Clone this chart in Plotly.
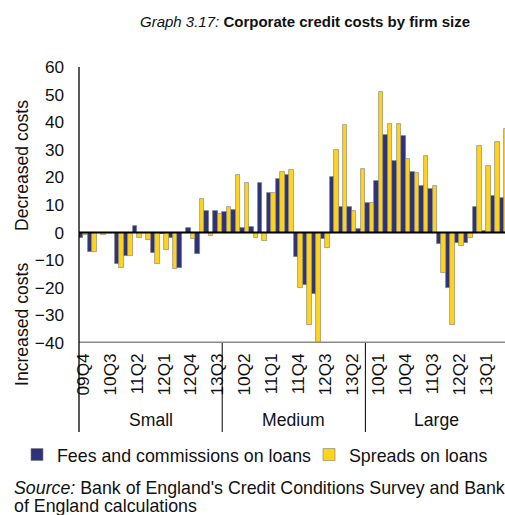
import plotly.graph_objects as go

# Quarters surveyed for each firm-size group (same 16 quarters per group)
quarters = ["09Q4", "10Q1", "10Q2", "10Q3", "10Q4", "11Q1", "11Q2", "11Q3",
            "11Q4", "12Q1", "12Q2", "12Q3", "12Q4", "13Q1", "13Q2", "13Q3"]
groups = ["Small", "Medium", "Large"]

# Net percentage balances (positive = decreased costs)
fees_small = [-1.8, -6.9, -0.3, -0.3, -11.5, -8.5, 2.4, -0.3,
              -7.3, -0.5, -1.8, -13.0, 1.5, -7.6, 8.0, 8.0]
spreads_small = [-1.0, -6.9, -0.7, -0.3, -12.9, -8.5, -2.0, -2.6,
                 -11.3, -6.4, -13.3, -0.3, -2.2, 12.0, -1.2, 6.7]
fees_medium = [7.5, 8.3, 1.8, 2.0, 17.8, 14.4, 19.3, 20.7,
               -8.7, -19.1, -22.1, -2.4, 20.0, 9.4, 9.4, 1.3]
spreads_medium = [9.2, 21.0, 18.0, -2.0, -3.1, 14.4, 21.9, 22.6,
                  -19.9, -33.3, -40.0, -5.6, 29.8, 39.1, 7.7, 23.2]
fees_large = [10.7, 18.6, 35.5, 26.1, 35.0, 21.9, 16.8, 15.8,
              -4.1, -20.1, -3.6, -3.6, 9.2, 0.7, 13.2, 12.5]
spreads_large = [10.6, 51.0, 39.5, 39.5, 26.5, 21.6, 27.9, 17.0,
                 -14.5, -33.3, -5.0, -2.0, 31.4, 24.3, 32.9, 37.6]

fees = fees_small + fees_medium + fees_large
spreads = spreads_small + spreads_medium + spreads_large
labels = quarters * len(groups)
xpos = list(range(len(labels)))

NAVY = "#2D327A"
YELLOW = "#FDD31C"
FONT = "Liberation Sans, Arial, sans-serif"

W, H = 505, 515
ML, MR, MT, MB = 79, 0, 67, 172
PW, PH = W - ML - MR, H - MT - MB


def px_x(px):
    return (px - ML) / PW


def px_y(py):
    return (H - MB - py) / PH


fig = go.Figure()
outline = dict(color="rgba(120,120,120,0.75)", width=0.8)
fig.add_trace(go.Bar(x=xpos, y=fees, name="Fees and commissions on loans",
                     marker=dict(color=NAVY, line=outline), legend="legend"))
fig.add_trace(go.Bar(x=xpos, y=spreads, name="Spreads on loans",
                     marker=dict(color=YELLOW, line=outline), legend="legend2"))

tick_idx = list(range(0, len(labels), 3))

legend_common = dict(orientation="h", xref="container", yref="container",
                     y=1 - 455 / H, xanchor="left", yanchor="middle",
                     font=dict(size=17.8), bgcolor="rgba(0,0,0,0)")

fig.update_layout(
    width=W, height=H,
    margin=dict(l=ML, r=MR, t=MT, b=MB, pad=0),
    paper_bgcolor="white", plot_bgcolor="white",
    font=dict(family=FONT, size=17.6, color="#111"),
    barmode="group", bargap=0.0, bargroupgap=0.0,
    showlegend=True,
    legend=dict(x=17 / W, **legend_common),
    legend2=dict(x=309 / W, **legend_common),
    xaxis=dict(range=[-0.5, 47.1], tickmode="array", tickvals=tick_idx,
               ticktext=[labels[i] for i in tick_idx], tickangle=-90,
               showgrid=False, zeroline=False, showline=False, ticks="",
               ticklabelstandoff=6, tickfont=dict(size=17.2)),
    yaxis=dict(range=[-40, 60], dtick=10, showgrid=False, zeroline=False,
               showline=False, ticks="", ticklabelstandoff=14,
               tickfont=dict(size=17.2)),
)

shapes = [
    # zero line across the plot
    dict(type="line", xref="paper", yref="y", x0=0, x1=1, y0=0, y1=0,
         line=dict(color="black", width=2), layer="above"),
    # bottom axis band
    dict(type="line", xref="paper", yref="y", x0=0, x1=1, y0=-40, y1=-40,
         line=dict(color="#8a8a8a", width=3), layer="above"),
    # left axis, running down through the category area
    dict(type="line", xref="paper", yref="paper", x0=0, x1=0,
         y0=px_y(432), y1=1, line=dict(color="black", width=1.3),
         layer="above"),
]
for b in (15.5, 31.5):
    shapes.append(dict(type="line", xref="x", yref="paper", x0=b, x1=b,
                       y0=px_y(432), y1=0,
                       line=dict(color="black", width=1), layer="above"))
fig.update_layout(shapes=shapes)

ann = []
ann.append(dict(xref="paper", yref="paper", x=px_x(305), y=px_y(22),
                text="<i>Graph 3.17:</i> <b>Corporate credit costs by firm size</b>",
                showarrow=False, font=dict(size=15), xanchor="center",
                yanchor="middle"))
ann.append(dict(xref="paper", yref="paper", x=px_x(22), y=px_y(166),
                text="Decreased costs", textangle=-90, showarrow=False,
                xanchor="center", yanchor="middle"))
ann.append(dict(xref="paper", yref="paper", x=px_x(22), y=px_y(325),
                text="Increased costs", textangle=-90, showarrow=False,
                xanchor="center", yanchor="middle"))
n = len(quarters)
for gi, g in enumerate(groups):
    ann.append(dict(xref="x", yref="paper", x=gi * n + (n - 1) / 2,
                    y=px_y(420), text=g, showarrow=False,
                    xanchor="center", yanchor="middle"))
ann.append(dict(xref="paper", yref="paper", x=px_x(12), y=px_y(488),
                text="<i>Source:</i> Bank of England's Credit Conditions Survey and Bank",
                showarrow=False, xanchor="left", yanchor="middle",
                font=dict(size=17.8)))
ann.append(dict(xref="paper", yref="paper", x=px_x(12), y=px_y(506),
                text="of England calculations",
                showarrow=False, xanchor="left", yanchor="middle",
                font=dict(size=17.8)))
fig.update_layout(annotations=ann)

fig.write_html("out.html")
